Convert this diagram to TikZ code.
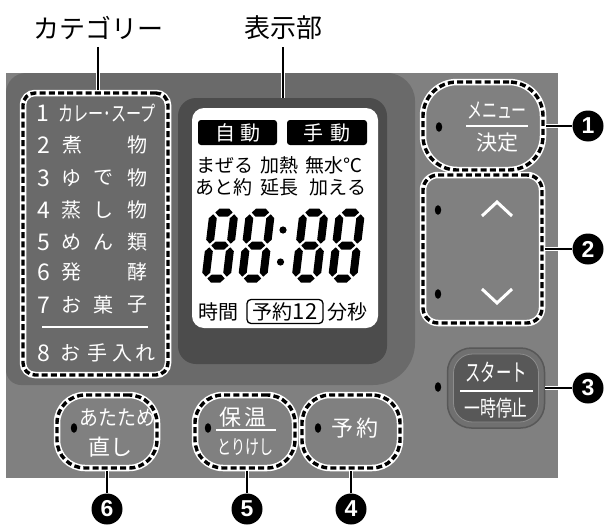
\documentclass[tikz,border=0pt]{standalone}
\usepackage{fontspec}
\newfontfamily\jp{Noto Sans CJK JP}
\newfontfamily\numf{Liberation Sans}
\definecolor{panelc}{HTML}{808080}
\definecolor{darkc}{HTML}{6A6A6A}
\definecolor{bezelc}{HTML}{4C4C4C}
\definecolor{ringc}{HTML}{707070}
\definecolor{innerc}{HTML}{585858}
\newcommand\fs[1]{\fontsize{#1}{#1}\selectfont}
\newcommand\hsg[3]{\fill ({#1},{#3}) -- ({#1+4},{#3-4}) -- ({#2-4},{#3-4}) -- ({#2},{#3}) -- ({#2-4},{#3+4}) -- ({#1+4},{#3+4}) -- cycle;}
\newcommand\vsg[3]{\fill ({#1},{#2}) -- ({#1+4},{#2+4}) -- ({#1+4},{#3-4}) -- ({#1},{#3}) -- ({#1-4},{#3-4}) -- ({#1-4},{#2+4}) -- cycle;}
\newcommand\lcdeight[2]{\begin{scope}[shift={(#1,#2)},xslant=0.12]
\hsg{-8.7}{8.7}{-33}\hsg{-8.7}{8.7}{0}\hsg{-8.7}{8.7}{33}
\vsg{-10.5}{-31.2}{-1.8}\vsg{10.5}{-31.2}{-1.8}\vsg{-10.5}{1.8}{31.2}\vsg{10.5}{1.8}{31.2}
\end{scope}}
\begin{document}
\begin{tikzpicture}[x=1pt,y=-1pt,
  dashbox/.style={draw=white, line width=6.5, inner sep=0,
    postaction={draw=black, line width=3.4, dash pattern=on 6 off 3.2}},
  leader/.style={line width=2, draw=black, preaction={draw=white, line width=4.6}},
  numcirc/.style={circle, fill=black, minimum size=31, inner sep=0, text=white,
    font=\numf\bfseries\fs{23}},
  wtxt/.style={text=white, inner sep=0, font=\jp\fs{20}},
  wnum/.style={text=white, inner sep=0, font=\jp\fs{23}},
  btxt/.style={text=black, inner sep=0, font=\jp\fs{19}},
  lbl/.style={text=black, inner sep=0, font=\jp\fs{26}},
  dot/.style={fill=black}]
\useasboundingbox (0,0) rectangle (604,527);
% panel
\fill[panelc] (6,73) rectangle (558,478);
\fill[darkc] (6,230) [rounded corners=20] -- (6,73) -- (200,73) [rounded corners=28] -- (415,73) -- (415,230)
  [rounded corners=42] -- (415,385) -- (200,385) [rounded corners=15] -- (6,385) -- cycle;
% display
\node[fill=bezelc, rounded corners=18, minimum width=209, minimum height=266, inner sep=0] (bezel) at (282.5,231) {};
\node[fill=white, rounded corners=12, minimum width=186, minimum height=220, inner sep=0] (lcd) at (285,218) {};
\node[fill=black, rounded corners=3, minimum width=79, minimum height=25, inner sep=0, text=white, font=\jp\fs{20}] (auto) at (237.5,132.5) {自\kern5pt 動};
\node[fill=black, rounded corners=3, minimum width=80, minimum height=25, inner sep=0, text=white, font=\jp\fs{20}] (manual) at (327,132.5) {手\kern7pt 動};
\node[btxt] (m1) at (225,165) {まぜる};
\node[btxt] (m2) at (279,165) {加熱};
\node[btxt] (m3) at (334,165) {無水℃};
\node[btxt] (n1) at (224,187) {あと約};
\node[btxt] (n2) at (279,187) {延長};
\node[btxt] (n3) at (338,187) {加える};
\lcdeight{220}{245.5}
\lcdeight{256.5}{245.5}
\lcdeight{310}{245.5}
\lcdeight{346.5}{245.5}
\fill (283,230) circle (3.6);
\fill (280.5,262) circle (3.6);
\node[btxt, font=\jp\fs{20}] (jikan) at (218,312) {時間};
\node[draw=black, line width=1.3, rounded corners=4, minimum width=76, minimum height=24, inner sep=0, font=\jp\fs{20}] (yoyakubox) at (285,311.5) {予約{\fs{22}12}};
\node[btxt, font=\jp\fs{20}] (funbyo) at (347,312) {分秒};
% category box
\node[dashbox, rounded corners=12, minimum width=145, minimum height=282] (cat) at (95.5,234) {};
\node[wnum] (r1n) at (43,113) {1};
\node[wtxt] (r1a) at (107,113) {\scalebox{0.72}[1]{\fs{21}カレー･スープ}};
\node[wnum] (r2n) at (44,145) {2};
\node[wtxt] (r2a) at (72,145) {煮};
\node[wtxt] (r2c) at (137,145) {物};
\node[wnum] (r3n) at (44,178) {3};
\node[wtxt] (r3a) at (71,178) {ゆ};
\node[wtxt] (r3b) at (103,178) {で};
\node[wtxt] (r3c) at (137,178) {物};
\node[wnum] (r4n) at (44,210) {4};
\node[wtxt] (r4a) at (71,210) {蒸};
\node[wtxt] (r4b) at (103,210) {し};
\node[wtxt] (r4c) at (137,210) {物};
\node[wnum] (r5n) at (44,242) {5};
\node[wtxt] (r5a) at (71,242) {め};
\node[wtxt] (r5b) at (103,242) {ん};
\node[wtxt] (r5c) at (137,242) {類};
\node[wnum] (r6n) at (44,272) {6};
\node[wtxt] (r6a) at (71,272) {発};
\node[wtxt] (r6c) at (137,272) {酵};
\node[wnum] (r7n) at (44,305) {7};
\node[wtxt] (r7a) at (71,305) {お};
\node[wtxt] (r7b) at (103,305) {菓};
\node[wtxt] (r7c) at (137,305) {子};
\draw[white, line width=1.5] (42,327) -- (148,327);
\node[wnum] (r8n) at (44,353) {8};
\node[wtxt] (r8a) at (70,353) {お};
\node[wtxt] (r8b) at (97,353) {手};
\node[wtxt] (r8c) at (122,353) {入};
\node[wtxt] (r8d) at (145,353) {れ};
% top labels
\node[lbl] (catlbl) at (98,28) {カテゴリー};
\node[lbl] (displbl) at (283,28) {表示部};
\draw[leader] ([yshift=-7pt]catlbl.south) -- (catlbl.south |- cat.north);
\draw[leader] ([yshift=-7pt]displbl.south) -- (displbl.south |- bezel.north);
% right buttons
\node[dashbox, rounded corners=34, minimum width=120, minimum height=88] (b1) at (483,126) {};
\fill[dot] (439,127) ellipse [x radius=3.2, y radius=4.8];
\node[wtxt] (b1a) at (497,110) {\scalebox{0.68}[1]{\fs{22}メニュー}};
\draw[white, line width=1.5] (466,126) -- (528,126);
\node[wtxt, font=\jp\fs{21}] (b1b) at (497,143) {決定};
\node[dashbox, rounded corners=15, minimum width=119, minimum height=148] (b2) at (482.5,249) {};
\fill[dot] (438,210) ellipse [x radius=3.2, y radius=4.8];
\fill[dot] (438,294) ellipse [x radius=3.2, y radius=4.8];
\draw[white, line width=3] (482,216) -- (497,202) -- (512,216);
\draw[white, line width=3] (482,289) -- (497,303) -- (512,289);
\node[fill=ringc, draw=innerc, line width=1.5, rounded corners=24, minimum width=97, minimum height=80, inner sep=0] (b3) at (496,388) {};
\node[fill=innerc, draw=ringc!80!white, line width=0.8, rounded corners=19, minimum width=85, minimum height=68, inner sep=0] (b3in) at (496,388) {};
\fill[dot] (438,387) ellipse [x radius=3.2, y radius=4.8];
\node[wtxt] (b3a) at (496,372) {\scalebox{0.64}[1]{\fs{24}スタート}};
\draw[white, line width=1.5] (460,391) -- (533,391);
\node[wtxt] (b3b) at (496,408) {\scalebox{0.72}[1]{\fs{22}一時停止}};
% bottom buttons
\node[dashbox, rounded corners=28, minimum width=100, minimum height=73] (b6) at (107,431.5) {};
\fill[dot] (74,428) ellipse [x radius=3.2, y radius=4.8];
\node[wtxt] (b6a) at (117.5,418) {\scalebox{0.9}[1]{\fs{21}あたため}};
\node[wtxt, font=\jp\fs{22}] (b6b) at (110.5,447) {直し};
\node[dashbox, rounded corners=28, minimum width=100, minimum height=73] (b5) at (245,431.5) {};
\fill[dot] (208,428) ellipse [x radius=3.2, y radius=4.8];
\node[wtxt, font=\jp\fs{22}] (b5a) at (243,417) {保\kern4pt 温};
\draw[white, line width=1.5] (216,430) -- (276,430);
\node[wtxt] (b5b) at (245,447) {\scalebox{0.7}[1]{\fs{20}とりけし}};
\node[dashbox, rounded corners=28, minimum width=98, minimum height=73] (b4) at (351,431.5) {};
\fill[dot] (318,428) ellipse [x radius=3.2, y radius=4.8];
\node[wtxt, font=\jp\fs{22}] (b4a) at (355,428) {予\kern4pt 約};
% numbered circles
\node[numcirc] (c1) at (588,126) {1};
\node[numcirc] (c2) at (588,249) {2};
\node[numcirc] (c3) at (588,388) {3};
\node[numcirc] (c6) at (107,509) {6};
\node[numcirc] (c5) at (247,509) {5};
\node[numcirc] (c4) at (351,509) {4};
\draw[leader] (b1.east) -- (c1.west);
\draw[leader] (b2.east) -- (c2.west);
\draw[leader] (b3.east) -- (c3.west);
\draw[leader] (b6.south) -- (c6.north);
\draw[leader] (c5.north |- b5.south) -- (c5.north);
\draw[leader] (b4.south) -- (c4.north);
\end{tikzpicture}
\end{document}
